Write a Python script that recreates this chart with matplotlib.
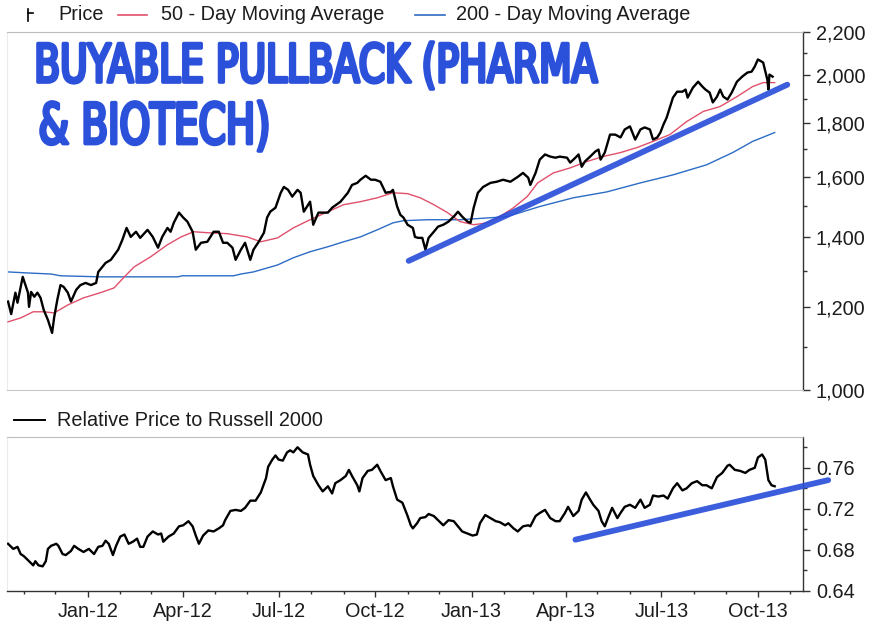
import matplotlib
matplotlib.use("Agg")
import matplotlib.pyplot as plt
import matplotlib.dates as mdates
import pandas as pd
from matplotlib.lines import Line2D
from matplotlib.textpath import TextPath
from matplotlib.patches import PathPatch
from matplotlib.font_manager import FontProperties
from matplotlib.transforms import Affine2D, IdentityTransform
from matplotlib.ticker import FixedLocator, FuncFormatter, NullFormatter

# ---------------- data ----------------
price_dates = [
    "2011-10-17", "2011-10-20", "2011-10-24", "2011-10-26", "2011-10-31", "2011-11-05", "2011-11-06",
    "2011-11-08", "2011-11-11", "2011-11-14", "2011-11-17", "2011-11-20", "2011-11-24", "2011-11-28",
    "2011-11-30", "2011-12-03", "2011-12-06", "2011-12-09", "2011-12-13", "2011-12-16", "2011-12-21",
    "2011-12-25", "2011-12-30", "2012-01-04", "2012-01-09", "2012-01-11", "2012-01-18", "2012-01-23",
    "2012-01-30", "2012-02-03", "2012-02-07", "2012-02-11", "2012-02-16", "2012-02-20", "2012-02-27",
    "2012-03-03", "2012-03-08", "2012-03-12", "2012-03-17", "2012-03-20", "2012-03-23", "2012-03-28",
    "2012-04-01", "2012-04-05", "2012-04-10", "2012-04-13", "2012-04-18", "2012-04-24", "2012-04-30",
    "2012-05-05", "2012-05-09", "2012-05-13", "2012-05-18", "2012-05-21", "2012-05-26", "2012-05-30",
    "2012-06-04", "2012-06-07", "2012-06-12", "2012-06-17", "2012-06-20", "2012-06-23", "2012-06-28",
    "2012-07-03", "2012-07-06", "2012-07-10", "2012-07-14", "2012-07-19", "2012-07-22", "2012-07-25",
    "2012-07-31", "2012-08-03", "2012-08-08", "2012-08-17", "2012-08-21", "2012-08-29", "2012-09-05",
    "2012-09-09", "2012-09-14", "2012-09-17", "2012-09-22", "2012-09-27", "2012-10-01", "2012-10-06",
    "2012-10-11", "2012-10-16", "2012-10-18", "2012-10-22", "2012-10-25", "2012-10-28", "2012-11-01",
    "2012-11-06", "2012-11-08", "2012-11-11", "2012-11-15", "2012-11-18", "2012-11-21", "2012-11-26",
    "2012-11-30", "2012-12-05", "2012-12-10", "2012-12-15", "2012-12-19", "2012-12-23", "2012-12-28",
    "2012-12-31", "2013-01-03", "2013-01-07", "2013-01-12", "2013-01-19", "2013-01-25", "2013-01-31",
    "2013-02-07", "2013-02-14", "2013-02-19", "2013-02-24", "2013-02-26", "2013-03-03", "2013-03-07",
    "2013-03-12", "2013-03-17", "2013-03-22", "2013-03-26", "2013-04-02", "2013-04-05", "2013-04-10",
    "2013-04-13", "2013-04-16", "2013-04-19", "2013-04-24", "2013-04-29", "2013-05-02", "2013-05-04",
    "2013-05-08", "2013-05-13", "2013-05-18", "2013-05-23", "2013-05-27", "2013-06-01", "2013-06-06",
    "2013-06-11", "2013-06-15", "2013-06-20", "2013-06-23", "2013-06-27", "2013-06-30", "2013-07-03",
    "2013-07-06", "2013-07-09", "2013-07-12", "2013-07-16", "2013-07-21", "2013-07-24", "2013-07-26",
    "2013-07-31", "2013-08-05", "2013-08-09", "2013-08-12", "2013-08-16", "2013-08-19", "2013-08-23",
    "2013-08-26", "2013-08-29", "2013-09-02", "2013-09-06", "2013-09-11", "2013-09-16", "2013-09-21",
    "2013-09-25", "2013-09-28", "2013-10-01", "2013-10-06", "2013-10-10", "2013-10-11", "2013-10-12",
    "2013-10-15",
]
price_values = [
    1215, 1182, 1239, 1212, 1283, 1239, 1201,
    1241, 1228, 1239, 1225, 1193, 1167, 1134,
    1174, 1220, 1260, 1255, 1239, 1215, 1247,
    1260, 1266, 1260, 1266, 1297, 1323, 1332,
    1362, 1392, 1429, 1401, 1417, 1398, 1423,
    1401, 1368, 1401, 1429, 1417, 1445, 1478,
    1462, 1449, 1417, 1362, 1383, 1386, 1417,
    1417, 1383, 1383, 1368, 1332, 1362, 1383,
    1332, 1362, 1386, 1414, 1462, 1481, 1494,
    1544, 1564, 1554, 1531, 1554, 1544, 1481,
    1514, 1439, 1478, 1478, 1494, 1514, 1544,
    1571, 1578, 1589, 1603, 1589, 1589, 1582,
    1544, 1547, 1554, 1498, 1471, 1462, 1439,
    1429, 1401, 1398, 1398, 1362, 1398, 1417,
    1433, 1439, 1449, 1465, 1481, 1465, 1449,
    1445, 1494, 1544, 1564, 1578, 1582, 1589,
    1582, 1599, 1613, 1596, 1571, 1613, 1661,
    1680, 1672, 1668, 1672, 1668, 1650, 1668,
    1680, 1635, 1654, 1672, 1691, 1698, 1661,
    1687, 1755, 1755, 1744, 1775, 1787, 1736,
    1775, 1783, 1775, 1736, 1744, 1763, 1795,
    1822, 1863, 1904, 1929, 1929, 1938, 1904,
    1946, 1972, 1951, 1938, 1925, 1884, 1908,
    1938, 1908, 1896, 1925, 1972, 1994, 2012,
    2016, 2039, 2071, 2057, 1981, 1938, 2003,
    1994,
]

ma50_dates = [
    "2011-10-17", "2011-10-29", "2011-11-10", "2011-11-20", "2011-11-30", "2011-12-13", "2011-12-28",
    "2012-01-13", "2012-01-26", "2012-02-04", "2012-02-14", "2012-03-01", "2012-03-17", "2012-03-30",
    "2012-04-11", "2012-04-24", "2012-05-13", "2012-06-01", "2012-06-14", "2012-06-30", "2012-07-15",
    "2012-07-31", "2012-08-17", "2012-09-01", "2012-09-17", "2012-10-03", "2012-10-18", "2012-11-01",
    "2012-11-13", "2012-11-26", "2012-12-09", "2012-12-21", "2013-01-03", "2013-01-16", "2013-01-28",
    "2013-02-10", "2013-02-23", "2013-03-05", "2013-03-20", "2013-04-05", "2013-04-21", "2013-05-06",
    "2013-05-23", "2013-06-08", "2013-06-23", "2013-07-09", "2013-07-25", "2013-08-10", "2013-08-26",
    "2013-09-11", "2013-09-26", "2013-10-06", "2013-10-17",
]
ma50_values = [
    1162, 1172, 1188, 1188, 1185, 1206, 1225,
    1239, 1252, 1280, 1311, 1341, 1377, 1401,
    1417, 1414, 1411, 1401, 1386, 1398, 1429,
    1455, 1481, 1504, 1514, 1527, 1544, 1541,
    1527, 1504, 1478, 1449, 1439, 1445, 1465,
    1494, 1531, 1578, 1613, 1631, 1654, 1672,
    1687, 1706, 1729, 1755, 1806, 1847, 1867,
    1908, 1951, 1968, 1968,
]

ma200_dates = [
    "2011-10-17", "2011-11-05", "2011-11-27", "2011-12-06", "2012-01-13", "2012-03-27", "2012-03-31",
    "2012-05-19", "2012-05-26", "2012-06-07", "2012-06-14", "2012-06-30", "2012-07-15", "2012-07-31",
    "2012-08-17", "2012-09-01", "2012-09-17", "2012-10-03", "2012-10-18", "2012-10-28", "2012-11-20",
    "2012-12-21", "2013-01-22", "2013-02-04", "2013-03-07", "2013-04-08", "2013-05-10", "2013-06-11",
    "2013-07-12", "2013-08-13", "2013-09-07", "2013-09-26", "2013-10-17",
]
ma200_values = [
    1297, 1294, 1291, 1286, 1283, 1283, 1286,
    1286, 1291, 1297, 1303, 1317, 1338, 1356,
    1371, 1386, 1401, 1423, 1445, 1452, 1455,
    1455, 1462, 1465, 1498, 1527, 1547, 1578,
    1606, 1642, 1687, 1729, 1763,
]

rel_dates = [
    "2011-10-17", "2011-10-22", "2011-10-26", "2011-10-29", "2011-11-01", "2011-11-05", "2011-11-10",
    "2011-11-12", "2011-11-15", "2011-11-19", "2011-11-22", "2011-11-24", "2011-11-27", "2011-12-02",
    "2011-12-04", "2011-12-08", "2011-12-11", "2011-12-16", "2011-12-19", "2011-12-23", "2011-12-28",
    "2012-01-02", "2012-01-07", "2012-01-11", "2012-01-15", "2012-01-18", "2012-01-21", "2012-01-25",
    "2012-01-28", "2012-02-01", "2012-02-05", "2012-02-09", "2012-02-13", "2012-02-17", "2012-02-20",
    "2012-02-23", "2012-02-27", "2012-03-03", "2012-03-08", "2012-03-11", "2012-03-13", "2012-03-18",
    "2012-03-23", "2012-03-28", "2012-04-01", "2012-04-06", "2012-04-10", "2012-04-13", "2012-04-16",
    "2012-04-20", "2012-04-25", "2012-04-30", "2012-05-05", "2012-05-09", "2012-05-11", "2012-05-16",
    "2012-05-21", "2012-05-26", "2012-05-30", "2012-06-04", "2012-06-09", "2012-06-14", "2012-06-19",
    "2012-06-21", "2012-06-25", "2012-06-28", "2012-07-01", "2012-07-05", "2012-07-09", "2012-07-12",
    "2012-07-15", "2012-07-19", "2012-07-24", "2012-07-29", "2012-07-31", "2012-08-03", "2012-08-08",
    "2012-08-12", "2012-08-17", "2012-08-21", "2012-08-24", "2012-08-29", "2012-09-03", "2012-09-06",
    "2012-09-09", "2012-09-14", "2012-09-16", "2012-09-19", "2012-09-24", "2012-09-28", "2012-10-03",
    "2012-10-06", "2012-10-11", "2012-10-16", "2012-10-18", "2012-10-22", "2012-10-27", "2012-11-01",
    "2012-11-04", "2012-11-06", "2012-11-10", "2012-11-13", "2012-11-18", "2012-11-21", "2012-11-26",
    "2012-11-30", "2012-12-05", "2012-12-10", "2012-12-15", "2012-12-19", "2012-12-23", "2012-12-28",
    "2013-01-02", "2013-01-06", "2013-01-09", "2013-01-14", "2013-01-19", "2013-01-24", "2013-01-28",
    "2013-02-02", "2013-02-05", "2013-02-10", "2013-02-14", "2013-02-19", "2013-02-24", "2013-02-26",
    "2013-03-03", "2013-03-07", "2013-03-12", "2013-03-17", "2013-03-22", "2013-03-26", "2013-03-31",
    "2013-04-03", "2013-04-08", "2013-04-13", "2013-04-16", "2013-04-20", "2013-04-24", "2013-04-27",
    "2013-05-02", "2013-05-05", "2013-05-08", "2013-05-11", "2013-05-15", "2013-05-20", "2013-05-23",
    "2013-05-27", "2013-06-01", "2013-06-06", "2013-06-11", "2013-06-15", "2013-06-20", "2013-06-23",
    "2013-06-28", "2013-07-03", "2013-07-07", "2013-07-12", "2013-07-16", "2013-07-21", "2013-07-25",
    "2013-07-30", "2013-08-04", "2013-08-09", "2013-08-13", "2013-08-18", "2013-08-23", "2013-08-28",
    "2013-09-02", "2013-09-04", "2013-09-09", "2013-09-14", "2013-09-19", "2013-09-23", "2013-09-28",
    "2013-10-01", "2013-10-05", "2013-10-08", "2013-10-11", "2013-10-14", "2013-10-17",
]
rel_values = [
    0.686, 0.681, 0.683, 0.676, 0.674, 0.670, 0.665,
    0.669, 0.665, 0.664, 0.669, 0.681, 0.684, 0.686,
    0.684, 0.676, 0.675, 0.679, 0.684, 0.681, 0.678,
    0.681, 0.676, 0.683, 0.684, 0.689, 0.686, 0.675,
    0.684, 0.693, 0.695, 0.686, 0.688, 0.691, 0.683,
    0.683, 0.693, 0.698, 0.695, 0.696, 0.688, 0.693,
    0.696, 0.703, 0.704, 0.708, 0.703, 0.694, 0.686,
    0.694, 0.699, 0.698, 0.701, 0.704, 0.709, 0.718,
    0.719, 0.718, 0.721, 0.728, 0.728, 0.736, 0.750,
    0.761, 0.768, 0.772, 0.768, 0.767, 0.775, 0.777,
    0.775, 0.780, 0.775, 0.773, 0.763, 0.752, 0.743,
    0.737, 0.742, 0.735, 0.745, 0.748, 0.752, 0.758,
    0.752, 0.743, 0.737, 0.750, 0.757, 0.758, 0.763,
    0.757, 0.748, 0.750, 0.742, 0.729, 0.726, 0.713,
    0.704, 0.701, 0.706, 0.711, 0.712, 0.715, 0.713,
    0.709, 0.704, 0.709, 0.708, 0.703, 0.698, 0.696,
    0.694, 0.695, 0.706, 0.714, 0.711, 0.708, 0.707,
    0.704, 0.706, 0.701, 0.698, 0.703, 0.704, 0.703,
    0.713, 0.716, 0.719, 0.711, 0.708, 0.708, 0.716,
    0.722, 0.713, 0.718, 0.729, 0.736, 0.729, 0.724,
    0.718, 0.708, 0.703, 0.711, 0.721, 0.711, 0.716,
    0.722, 0.724, 0.721, 0.729, 0.721, 0.724, 0.733,
    0.732, 0.733, 0.730, 0.740, 0.745, 0.738, 0.740,
    0.745, 0.747, 0.743, 0.743, 0.740, 0.751, 0.755,
    0.762, 0.763, 0.758, 0.757, 0.755, 0.758, 0.760,
    0.770, 0.773, 0.768, 0.748, 0.743, 0.742,
]

# hand-drawn support lines (annotation)
trend_price_dates = ["2012-11-02", "2013-10-29"]
trend_price_values = [1329, 1959]
trend_rel_dates = ["2013-04-10", "2013-12-07"]
trend_rel_values = [0.690, 0.748]

price_ticks = [1000, 1200, 1400, 1600, 1800, 2000, 2200]
price_minor_ticks = [1100, 1300, 1500, 1700, 1900, 2100]
rel_ticks = [0.64, 0.68, 0.72, 0.76]
rel_minor_ticks = [0.66, 0.70, 0.74, 0.78]
x_range = ["2011-10-16", "2013-11-13"]

legend_labels = ["Price", "50 - Day Moving Average", "200 - Day Moving Average"]
rel_label = "Relative Price to Russell 2000"
note_lines = ["BUYABLE PULLBACK (PHARMA", "& BIOTECH)"]

# ---------------- style ----------------
FONT = ["Liberation Sans", "DejaVu Sans"]
plt.rcParams["font.family"] = FONT
TXT = "#1c1c1c"
RED = "#e0506c"
BLUE = "#2c6cc4"
MARK = "#2b50da"
FS = 14.3

W, H = 891, 623
fig = plt.figure(figsize=(W / 100, H / 100), dpi=100)
fig.patch.set_facecolor("white")

def fx(px):
    return px / W

def fy(py):
    return 1 - py / H

ax1 = fig.add_axes([fx(7), fy(390), fx(796), (390 - 32) / H])
ax2 = fig.add_axes([fx(7), fy(591), fx(796), (591 - 437) / H])

to_dt = lambda l: pd.to_datetime(l)
xlim = to_dt(x_range)

# --- top panel ---
ax1.plot(to_dt(ma200_dates), ma200_values, color=BLUE, lw=1.0, zorder=2)
ax1.plot(to_dt(ma50_dates), ma50_values, color=RED, lw=1.0, zorder=3)
ax1.plot(to_dt(price_dates), price_values, color="black", lw=1.7, zorder=4,
         solid_joinstyle="round")
ax1.plot(to_dt(trend_price_dates), trend_price_values, color=MARK, lw=4.2,
         solid_capstyle="round", alpha=0.92, zorder=5)
ax1.set_yscale("log")
ax1.set_ylim(price_ticks[0], price_ticks[-1])
ax1.set_xlim(xlim)
ax1.yaxis.set_major_locator(FixedLocator(price_ticks))
ax1.yaxis.set_minor_locator(FixedLocator(price_minor_ticks))
ax1.yaxis.set_major_formatter(FuncFormatter(lambda v, p: f"{v:,.0f}"))
ax1.yaxis.set_minor_formatter(NullFormatter())
ax1.yaxis.tick_right()
ax1.tick_params(axis="y", which="major", length=5, width=1.0, pad=4.3,
                labelsize=FS, colors="#333333", labelcolor=TXT)
ax1.tick_params(axis="y", which="minor", length=3, width=1.0, colors="#333333")
ax1.tick_params(axis="x", which="both", bottom=False, labelbottom=False)

# --- bottom panel ---
ax2.plot(to_dt(rel_dates), rel_values, color="black", lw=1.7, zorder=4,
         solid_joinstyle="round")
ax2.plot(to_dt(trend_rel_dates), trend_rel_values, color=MARK, lw=4.2,
         solid_capstyle="round", alpha=0.92, zorder=5, clip_on=False)
ax2.set_ylim(rel_ticks[0], 0.79)
ax2.set_xlim(xlim)
ax2.yaxis.set_major_locator(FixedLocator(rel_ticks))
ax2.yaxis.set_minor_locator(FixedLocator(rel_minor_ticks))
ax2.yaxis.set_major_formatter(FuncFormatter(lambda v, p: f"{v:.2f}"))
ax2.yaxis.tick_right()
ax2.xaxis.set_major_locator(mdates.MonthLocator(bymonth=[1, 4, 7, 10]))
ax2.xaxis.set_minor_locator(mdates.MonthLocator())
ax2.xaxis.set_major_formatter(mdates.DateFormatter("%b-%y"))
ax2.tick_params(axis="y", which="major", length=5, width=1.0, pad=4.3,
                labelsize=FS, colors="#333333", labelcolor=TXT)
ax2.tick_params(axis="y", which="minor", length=3, width=1.0, colors="#333333")
ax2.tick_params(axis="x", which="major", length=4, width=1.0, pad=4,
                labelsize=FS, colors="#333333", labelcolor=TXT)
ax2.tick_params(axis="x", which="minor", length=2.5, width=1.0, colors="#333333")

for ax in (ax1, ax2):
    ax.set_facecolor("white")
    ax.spines["right"].set_color("#333333")
    ax.spines["right"].set_linewidth(1.0)
    ax.spines["top"].set_color("#bdbdbd")
    ax.spines["top"].set_linestyle((0, (2, 1)))
    ax.spines["top"].set_linewidth(0.8)
    ax.spines["left"].set_color("#ececec")
    ax.spines["left"].set_linewidth(0.8)
ax1.spines["bottom"].set_color("#c8c8c8")
ax1.spines["bottom"].set_linewidth(0.8)
ax2.spines["bottom"].set_color("#333333")
ax2.spines["bottom"].set_linewidth(1.0)

# --- legends (manual placement) ---
ly = fy(15)
fig.add_artist(Line2D([fx(28), fx(28)], [fy(9), fy(21)], color="black", lw=1.2,
                      transform=fig.transFigure))
fig.add_artist(Line2D([fx(28), fx(33)], [fy(13), fy(13)], color="black", lw=1.2,
                      transform=fig.transFigure))
fig.text(fx(58), ly, legend_labels[0], fontsize=FS, color=TXT, va="center", ha="left")
fig.add_artist(Line2D([fx(118), fx(147)], [ly, ly], color=RED, lw=1.2,
                      transform=fig.transFigure))
fig.text(fx(161), ly, legend_labels[1], fontsize=FS, color=TXT, va="center", ha="left")
fig.add_artist(Line2D([fx(415), fx(445)], [ly, ly], color=BLUE, lw=1.2,
                      transform=fig.transFigure))
fig.text(fx(456), ly, legend_labels[2], fontsize=FS, color=TXT, va="center", ha="left")

ry = fy(420)
fig.add_artist(Line2D([fx(14), fx(45)], [ry, ry], color="black", lw=1.4,
                      transform=fig.transFigure))
fig.text(fx(57), ry, rel_label, fontsize=FS, color=TXT, va="center", ha="left")

# --- hand-written note (marker style) ---
def marker_text(s, x0, x1, ytop, ybot):
    fp = FontProperties(family="DejaVu Sans", weight="normal")
    tp = TextPath((0, 0), s, size=40, prop=fp)
    ext = tp.get_extents()
    sx = (x1 - x0) / ext.width
    sy = (ybot - ytop) / ext.height
    tr = Affine2D().translate(-ext.x0, -ext.y0).scale(sx, sy).translate(x0, H - ybot)
    patch = PathPatch(tr.transform_path(tp), facecolor=MARK, edgecolor=MARK, lw=2.6,
                      joinstyle="round", capstyle="round",
                      transform=IdentityTransform(), zorder=10)
    fig.add_artist(patch)

marker_text(note_lines[0], 38, 597, 42, 89)
marker_text(note_lines[1], 41, 267, 101, 151)

fig.savefig("out.png", dpi=100, facecolor="white")
